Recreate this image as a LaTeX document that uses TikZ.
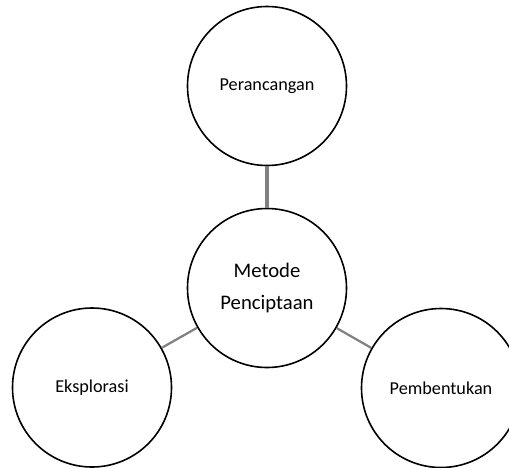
\documentclass[tikz,border=0pt]{standalone}
\usepackage{fontspec}
\setmainfont{Carlito}
\begin{document}
\begin{tikzpicture}[x=1pt,y=-1pt,
  bubble/.style={circle,draw=black,line width=1.6pt,fill=white,minimum size=159pt,inner sep=0pt,align=center,font=\fontsize{18.2}{22}\selectfont},
  mainbubble/.style={bubble,font=\fontsize{20.7}{32}\selectfont},
  link/.style={draw=black!50,line width=2.2pt},
  toplink/.style={draw=black!50,line width=3.3pt}]
\useasboundingbox (0,0) rectangle (509,467);
\clip (0,0) rectangle (509,467);
\node[bubble] (top) at (267,86) {Perancangan};
\node[mainbubble] (mid) at (267,288) {Metode\\Penciptaan};
\node[bubble] (left) at (92,387.5) {Eksplorasi};
\node[bubble] (right) at (441,388) {Pembentukan};
\draw[toplink] (top) -- (mid);
\draw[link] (mid) -- (left);
\draw[link] (mid) -- (right);
\end{tikzpicture}
\end{document}
